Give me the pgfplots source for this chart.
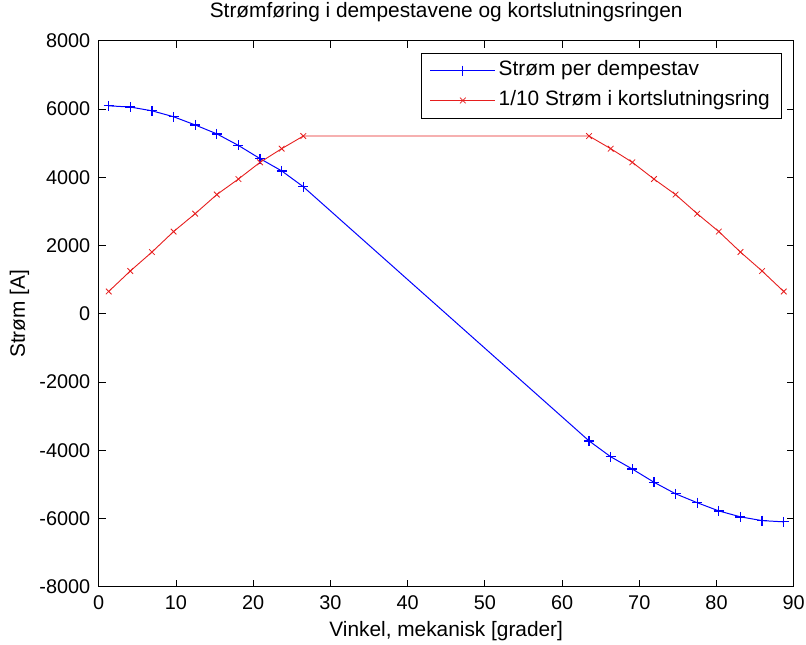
\documentclass[border=0pt]{standalone}
\usepackage{fontspec}
\setmainfont{Liberation Sans}
\usepackage{pgfplots}
\pgfplotsset{compat=1.18}
\begin{document}
\begin{tikzpicture}
\path[use as bounding box] (0,0) rectangle (809bp,647bp);
\begin{axis}[
  at={(99bp,58bp)}, anchor=south west,
  scale only axis, width=697.7bp, height=548bp,
  xmin=0, xmax=90, ymin=-8000, ymax=8000,
  xtick={0,10,...,90}, ytick={-8000,-6000,...,8000},
  scaled y ticks=false,
  /pgf/number format/1000 sep={},
  /pgf/number format/assume math mode=true,
  tick align=inside, major tick length=7bp,
  tick style={black, line width=0.7bp},
  axis line style={black, line width=0.8bp},
  font=\fontsize{21}{25}\selectfont,
  ticklabel style={font=\fontsize{20}{24}\selectfont},
  yticklabel style={inner sep=0pt, xshift=-8.3bp},
  xticklabel style={inner sep=0pt, yshift=-9bp},
  title={Strømføring i dempestavene og kortslutningsringen},
  title style={at={(axis description cs:0.5,1.031)}, anchor=base, inner sep=0pt},
  xlabel={Vinkel, mekanisk [grader]},
  xlabel style={at={(axis description cs:0.5,-0.0803)}, anchor=center, inner sep=0pt},
  ylabel={Strøm [A]},
  ylabel style={at={(axis description cs:-0.1139,0.5)}, anchor=center, inner sep=0pt},
  legend cell align=left,
  legend style={at={(1,1)}, anchor=north east, xshift=-11.7bp, yshift=-12bp,
    draw=black, line width=0.7bp, inner xsep=9bp, inner ysep=4.5bp,
    font=\fontsize{21}{25}\selectfont, row sep=4bp,
    nodes={inner sep=3bp, text height=15bp, text depth=5bp}},
  legend image code/.code={\draw[mark repeat=2,mark phase=2] plot coordinates {(0bp,0bp) (32.5bp,0bp) (65bp,0bp)};},
]
\addplot[color={rgb,255:red,0;green,0;blue,255}, line width=1bp, mark=+, mark size=5bp, mark options={line width=1.3bp}]
coordinates {
(1.3,6096) (4.1,6060) (6.9,5950) (9.7,5776) (12.5,5535) (15.3,5274) (18.1,4935) (20.9,4548) (23.7,4189) (26.5,3724)
(63.5,-3724) (66.3,-4189) (69.1,-4548) (71.9,-4935) (74.7,-5274) (77.5,-5535) (80.3,-5776) (83.1,-5950) (85.9,-6060) (88.7,-6096)
};
\addlegendentry{Strøm per dempestav}
\addplot[color={rgb,255:red,230;green,30;blue,30}, line width=0.9bp, mark=x, mark size=4bp, mark options={line width=0.8bp}]
coordinates {
(1.3,655) (4.1,1255) (6.9,1810) (9.7,2410) (12.5,2935) (15.3,3495) (18.1,3950) (20.9,4440) (23.7,4840) (26.5,5210)
(63.5,5210) (66.3,4840) (69.1,4440) (71.9,3950) (74.7,3495) (77.5,2935) (80.3,2410) (83.1,1810) (85.9,1255) (88.7,655)
};
\addlegendentry{1/10 Strøm i kortslutningsring}
\end{axis}
\end{tikzpicture}
\end{document}
